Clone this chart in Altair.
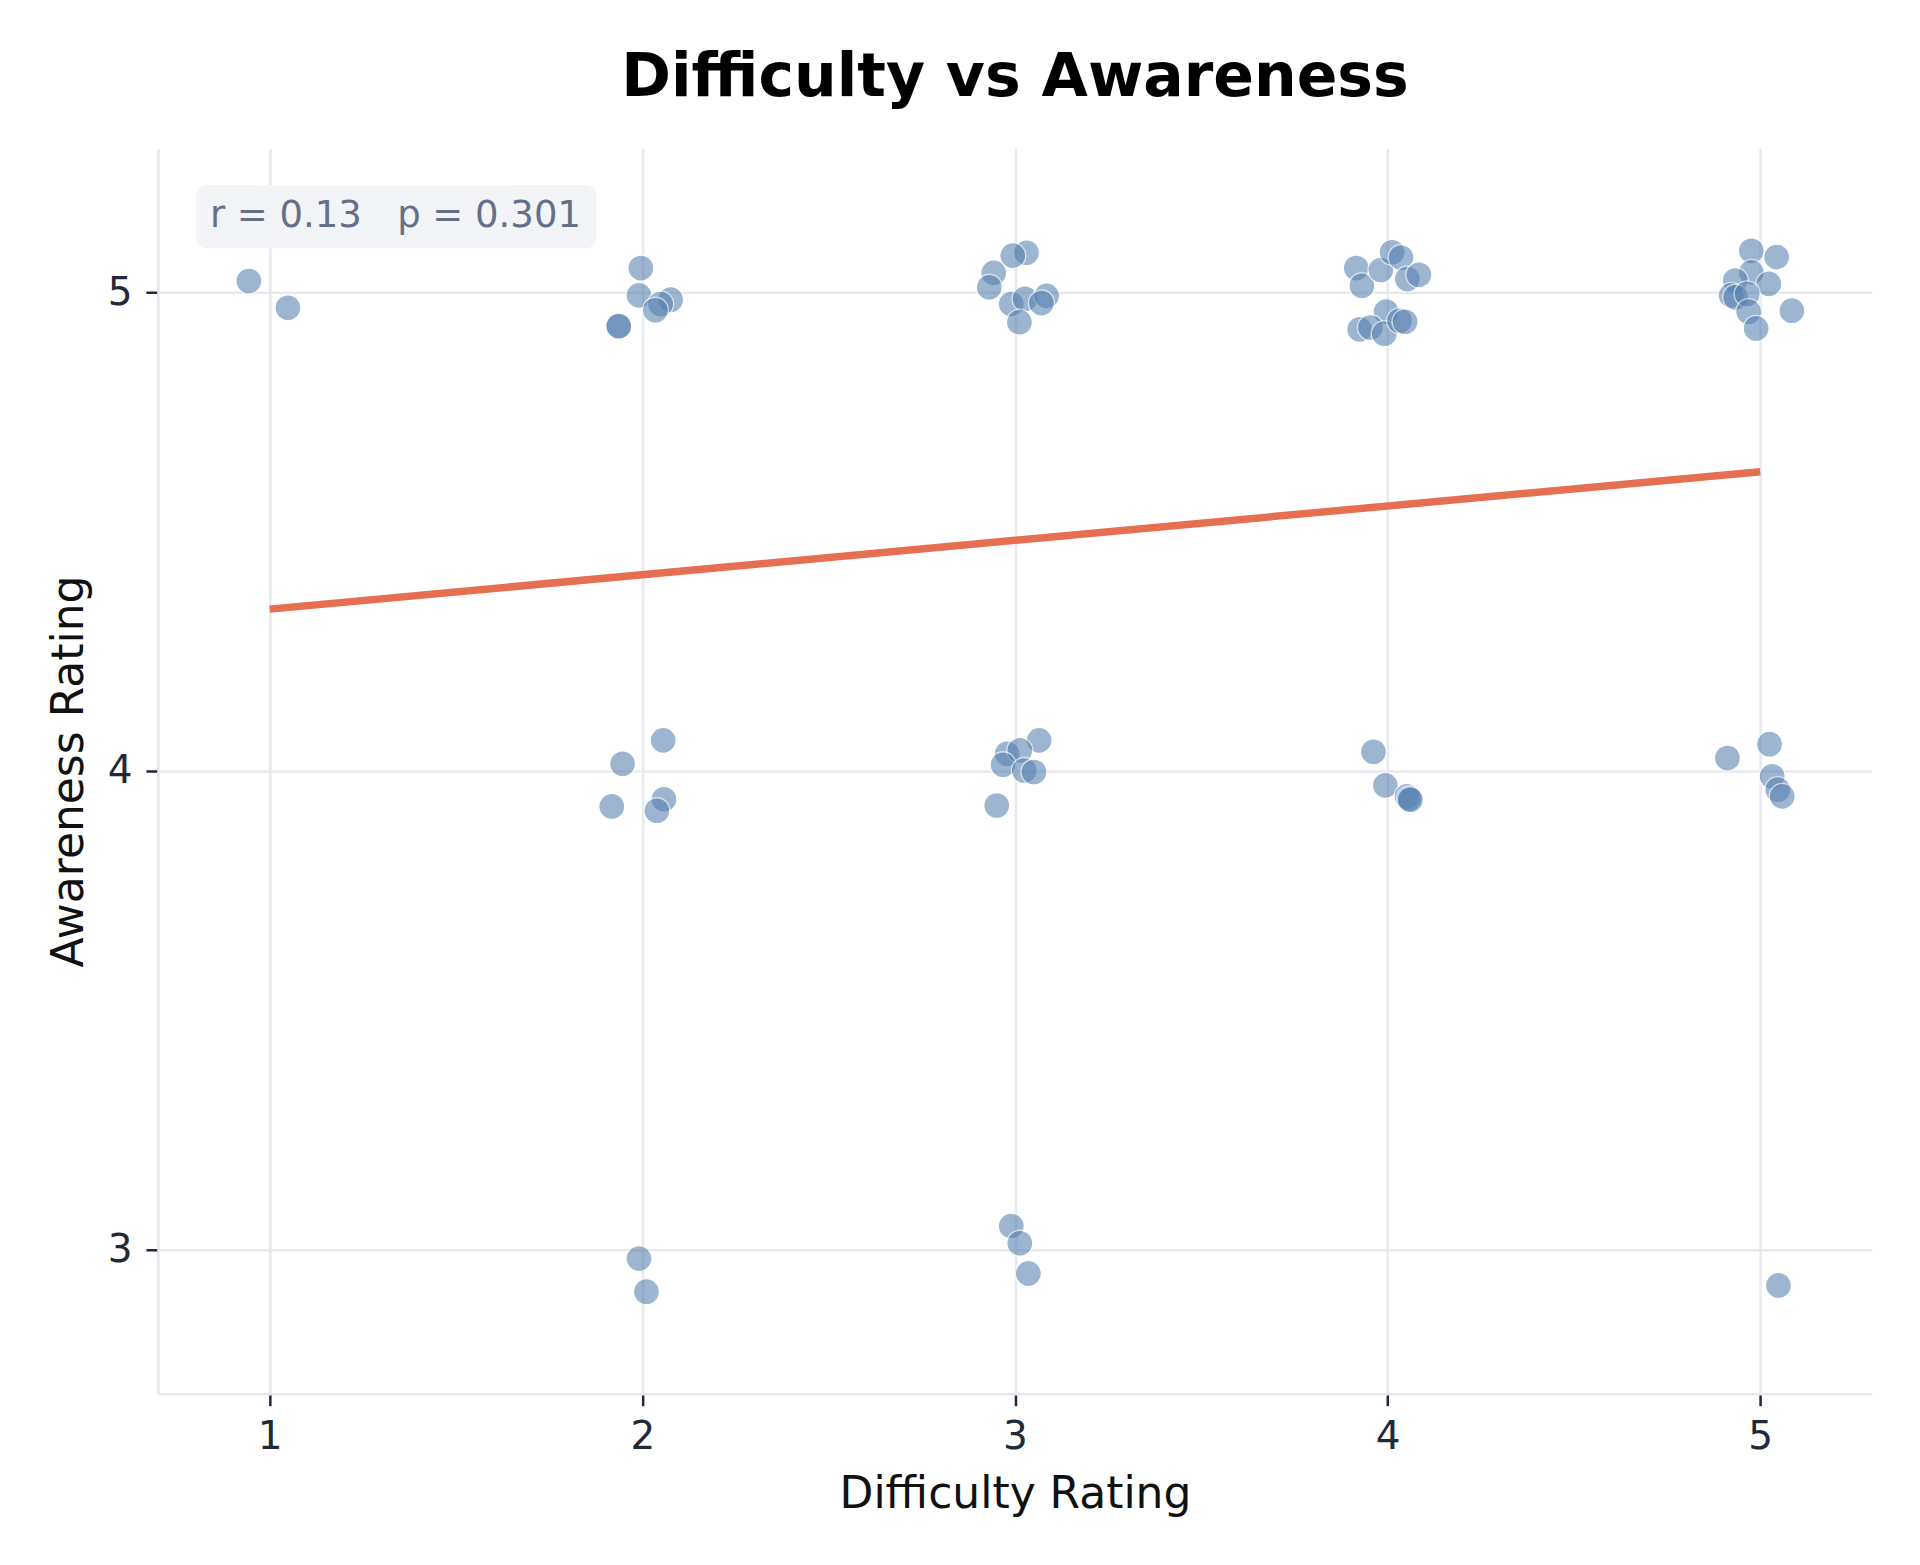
import altair as alt
import pandas as pd

# ---- data (jittered ratings) ----
diff_x = [
    0.944, 1.049,
    1.996, 1.991, 2.076, 2.049, 2.035, 1.936, 1.937,
    2.056, 1.947, 1.918, 2.058, 2.039,
    1.991, 2.011,
    3.031, 2.994, 2.943, 2.931, 2.990, 3.027, 3.085, 3.071, 3.012,
    3.065, 2.979, 3.013, 2.968, 3.025, 3.051, 2.951,
    2.990, 3.013, 3.036,
    3.916, 3.931, 3.982, 4.012, 4.036, 4.053, 4.084, 3.996, 3.925, 3.954, 3.991, 4.032, 4.047,
    3.962, 3.994, 4.052, 4.058, 4.061,
    4.976, 5.044, 4.976, 4.933, 5.023, 4.922, 4.934, 4.965, 4.969, 4.989, 5.085,
    4.912, 5.025, 5.032, 5.047, 5.059,
    5.049,
]
aware_y = [
    5.023, 4.967,
    5.050, 4.993, 4.984, 4.975, 4.962, 4.928, 4.929,
    4.064, 4.015, 3.926, 3.941, 3.917,
    2.982, 2.913,
    5.082, 5.076, 5.040, 5.010, 4.975, 4.986, 4.992, 4.977, 4.937,
    4.064, 4.036, 4.043, 4.013, 4.001, 3.998, 3.928,
    3.050, 3.014, 2.951,
    5.050, 5.013, 5.046, 5.083, 5.072, 5.027, 5.036, 4.959, 4.922, 4.926, 4.913, 4.940, 4.938,
    4.040, 3.970, 3.947, 3.942, 3.940,
    5.086, 5.073, 5.041, 5.024, 5.017, 4.993, 4.989, 4.996, 4.959, 4.924, 4.961,
    4.027, 4.056, 3.989, 3.961, 3.947,
    2.926,
]

# regression line end points
fit_x = [1, 5]
fit_y = [4.338, 4.625]

x_ticks = [1, 2, 3, 4, 5]
y_ticks = [3, 4, 5]
x_domain = [0.7, 5.3]
y_domain = [2.7, 5.3]

stat_text = "r = 0.13\u00a0\u00a0\u00a0p = 0.301"
title_text = "Difficulty vs Awareness"

FONT = "DejaVu Sans"

pts = pd.DataFrame({"Difficulty Rating": diff_x, "Awareness Rating": aware_y})
fit = pd.DataFrame({"Difficulty Rating": fit_x, "Awareness Rating": fit_y})
ann = pd.DataFrame({"label": [stat_text]})

xscale = alt.Scale(domain=x_domain, nice=False, zero=False)
yscale = alt.Scale(domain=y_domain, nice=False, zero=False)

xaxis = alt.Axis(title="Difficulty Rating", values=x_ticks, format="d",
                 labelPadding=12, titlePadding=16)
yaxis = alt.Axis(title="Awareness Rating", values=y_ticks, format="d",
                 labelPadding=14, titlePadding=16)

points = alt.Chart(pts).mark_circle(
    size=680, color="#5580b0", opacity=0.58, stroke="white", strokeWidth=1.4
).encode(
    x=alt.X("Difficulty Rating:Q", scale=xscale, axis=xaxis),
    y=alt.Y("Awareness Rating:Q", scale=yscale, axis=yaxis),
)

line = alt.Chart(fit).mark_line(
    color="#e76f51", strokeWidth=7.5, strokeCap="butt"
).encode(
    x=alt.X("Difficulty Rating:Q", scale=xscale),
    y=alt.Y("Awareness Rating:Q", scale=yscale),
)

box = alt.Chart(ann).mark_rect(
    color="#f3f4f8", cornerRadius=11
).encode(
    x=alt.value(38), x2=alt.value(439), y=alt.value(37), y2=alt.value(100)
)

label = alt.Chart(ann).mark_text(
    align="left", baseline="middle", font=FONT, fontSize=37, color="#64708a"
).encode(
    x=alt.value(52), y=alt.value(68), text="label:N"
)

chart = alt.layer(points, line, box, label).properties(
    width=1715,
    height=1246,
    title=alt.TitleParams(
        title_text, font=FONT, fontSize=60, fontWeight="bold", color="#000000",
        anchor="middle", frame="group", baseline="alphabetic", offset=-8,
    ),
    padding={"left": 150, "top": 140, "right": 40, "bottom": 160},
    autosize=alt.AutoSizeParams(type="none"),
).configure_view(
    stroke=None
).configure_axis(
    labelFont=FONT, labelFontSize=39, labelColor="#1f2937",
    titleFont=FONT, titleFontSize=44, titleFontWeight="normal", titleColor="#111111",
    domainColor="#e5e7eb", domainWidth=2.5,
    gridColor="#e8e9ee", gridWidth=2.5,
    tickColor="#1f2937", tickSize=12, tickWidth=2.5,
)

chart.save("out.html", embed_options={"renderer": "svg", "actions": False})
